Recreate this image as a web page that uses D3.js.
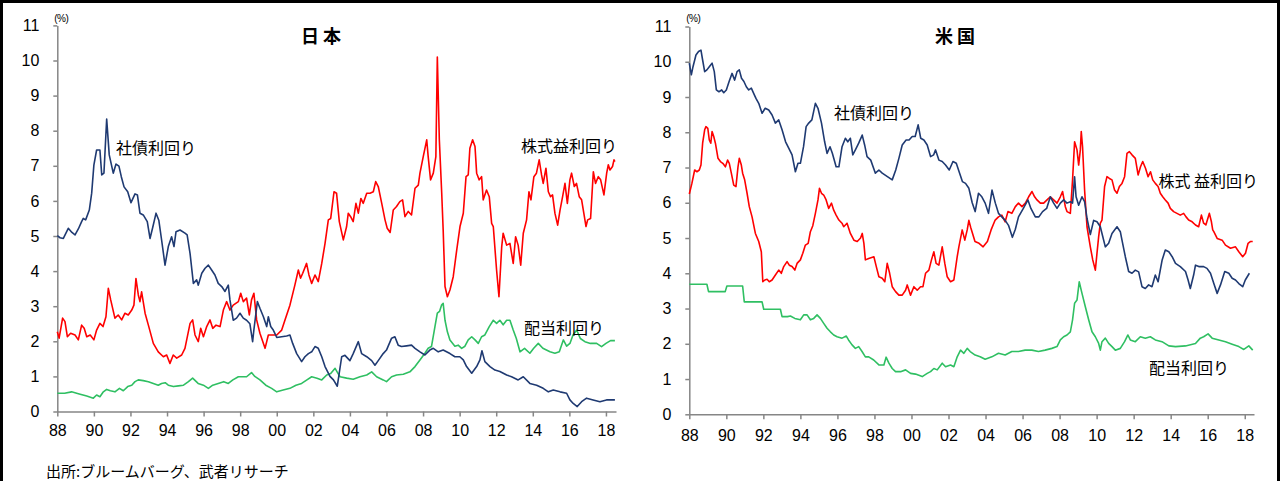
<!DOCTYPE html>
<html lang="ja">
<head>
<meta charset="UTF-8">
<title>日本・米国 利回り比較</title>
<script src="https://d3js.org/d3.v7.min.js"></script>
<style>
  body { margin: 0; background: #fff; }
  svg { display: block; }
  .tick text { font-family: "Liberation Sans", Arial, sans-serif; font-size: 16px; fill: #000; }
  .jp { font-family: "Noto Sans CJK JP", sans-serif; fill: #000; }
</style>
</head>
<body>
<svg id="chart" width="1281" height="481"></svg>
<script>
// x tick years and y tick values
var xTickYears = d3.range(1988, 2019, 2);
var yTickValues = d3.range(0, 12);

// Japan: [year, %]
var jpBond = [[1988.0,5.01],[1988.15,4.95],[1988.33,4.93],[1988.6,5.22],[1988.8,5.1],[1988.97,5.03],[1989.15,5.2],[1989.33,5.41],[1989.42,5.5],[1989.55,5.46],[1989.75,5.74],[1989.88,6.22],[1990.0,7.02],[1990.15,7.45],[1990.33,7.45],[1990.43,6.74],[1990.55,6.79],[1990.7,8.33],[1990.84,7.31],[1991.06,6.79],[1991.21,7.05],[1991.37,6.99],[1991.5,6.69],[1991.65,6.4],[1991.85,6.26],[1992.03,5.95],[1992.25,6.2],[1992.38,6.17],[1992.52,5.65],[1992.7,5.6],[1992.92,5.41],[1993.07,4.93],[1993.22,5.25],[1993.4,5.65],[1993.55,5.45],[1993.7,4.9],[1993.89,4.17],[1994.07,4.7],[1994.25,4.98],[1994.38,4.7],[1994.49,5.12],[1994.71,5.17],[1994.98,5.08],[1995.1,5.03],[1995.26,4.5],[1995.44,3.65],[1995.62,3.75],[1995.71,3.6],[1995.9,3.94],[1996.08,4.08],[1996.26,4.17],[1996.44,4.03],[1996.62,3.89],[1996.8,3.65],[1996.99,3.56],[1997.17,3.42],[1997.35,3.6],[1997.44,3.18],[1997.62,2.6],[1997.8,2.66],[1997.99,2.8],[1998.17,2.66],[1998.35,2.6],[1998.53,2.5],[1998.68,1.99],[1998.75,2.33],[1998.94,3.13],[1999.08,2.94],[1999.27,2.7],[1999.45,2.42],[1999.54,2.7],[1999.67,2.42],[1999.81,2.32],[2000.0,2.11],[2000.27,2.13],[2000.54,2.15],[2000.72,2.18],[2000.87,1.94],[2001.09,1.65],[2001.36,1.42],[2001.54,1.56],[2001.73,1.65],[2001.91,1.7],[2002.09,1.85],[2002.27,1.8],[2002.46,1.56],[2002.64,1.28],[2002.91,1.0],[2003.1,0.9],[2003.31,0.72],[2003.55,1.56],[2003.73,1.6],[2004.0,1.45],[2004.18,1.65],[2004.46,1.99],[2004.64,1.65],[2004.92,1.56],[2005.19,1.45],[2005.37,1.32],[2005.55,1.45],[2005.82,1.65],[2006.0,1.75],[2006.28,2.09],[2006.46,2.13],[2006.64,1.89],[2006.82,1.85],[2007.1,1.87],[2007.37,1.89],[2007.56,1.8],[2007.83,1.7],[2008.1,1.61],[2008.37,1.75],[2008.56,1.8],[2008.83,1.7],[2009.1,1.75],[2009.47,1.65],[2009.74,1.56],[2010.01,1.56],[2010.2,1.47],[2010.38,1.28],[2010.66,1.09],[2010.93,1.28],[2011.11,1.47],[2011.22,1.73],[2011.38,1.42],[2011.66,1.28],[2011.93,1.18],[2012.2,1.14],[2012.57,1.04],[2012.84,0.99],[2013.2,0.9],[2013.48,0.99],[2013.84,0.8],[2014.21,0.75],[2014.57,0.66],[2014.85,0.56],[2015.12,0.61],[2015.49,0.56],[2015.85,0.52],[2016.03,0.33],[2016.21,0.23],[2016.43,0.14],[2016.67,0.28],[2016.94,0.38],[2017.3,0.33],[2017.67,0.28],[2018.03,0.33],[2018.49,0.33]];
var jpEarn = [[1988.0,2.27],[1988.1,2.09],[1988.29,2.66],[1988.42,2.56],[1988.55,2.13],[1988.73,2.23],[1988.97,2.18],[1989.15,2.04],[1989.33,2.46],[1989.47,2.37],[1989.61,2.13],[1989.8,2.18],[1990.0,2.04],[1990.15,2.32],[1990.33,2.51],[1990.5,2.42],[1990.66,2.7],[1990.79,3.51],[1990.92,3.18],[1991.15,2.66],[1991.33,2.75],[1991.52,2.61],[1991.7,2.8],[1991.88,2.75],[1992.07,2.89],[1992.19,3.03],[1992.3,3.79],[1992.43,3.32],[1992.52,3.13],[1992.61,3.41],[1992.8,2.8],[1992.98,2.46],[1993.25,1.94],[1993.52,1.7],[1993.8,1.56],[1993.98,1.61],[1994.16,1.37],[1994.34,1.61],[1994.53,1.52],[1994.8,1.61],[1994.98,1.8],[1995.26,2.51],[1995.4,2.61],[1995.53,2.18],[1995.71,1.99],[1995.84,2.37],[1995.99,2.13],[1996.17,2.42],[1996.35,2.61],[1996.5,2.37],[1996.68,2.46],[1996.9,2.42],[1997.08,2.89],[1997.26,3.13],[1997.44,2.89],[1997.62,3.03],[1997.9,3.13],[1998.03,3.37],[1998.17,3.13],[1998.35,3.23],[1998.5,2.75],[1998.62,3.18],[1998.75,3.37],[1998.9,2.61],[1999.08,2.23],[1999.36,1.8],[1999.54,2.18],[1999.72,2.18],[2000.0,2.18],[2000.27,2.32],[2000.45,2.61],[2000.72,3.03],[2000.99,3.6],[2001.18,4.03],[2001.3,3.8],[2001.42,3.94],[2001.63,4.22],[2001.76,3.89],[2001.91,3.65],[2002.09,3.89],[2002.27,3.7],[2002.46,4.22],[2002.64,4.79],[2002.82,5.46],[2002.95,5.5],[2003.13,6.26],[2003.27,6.22],[2003.42,5.41],[2003.64,4.89],[2003.82,5.27],[2003.91,5.65],[2004.04,5.55],[2004.18,5.41],[2004.33,5.93],[2004.46,5.65],[2004.6,6.07],[2004.73,5.93],[2004.92,6.22],[2005.1,6.22],[2005.28,6.26],[2005.41,6.55],[2005.55,6.41],[2005.74,5.93],[2005.92,5.46],[2006.04,5.22],[2006.2,5.1],[2006.37,5.74],[2006.55,5.84],[2006.73,5.98],[2006.88,6.03],[2007.01,5.55],[2007.19,5.7],[2007.37,5.6],[2007.56,6.36],[2007.74,6.45],[2007.83,6.79],[2008.01,7.26],[2008.2,7.74],[2008.28,7.26],[2008.41,6.6],[2008.56,6.79],[2008.7,7.26],[2008.78,10.1],[2008.89,7.74],[2009.02,6.22],[2009.1,5.17],[2009.2,3.56],[2009.33,3.27],[2009.47,3.46],[2009.65,3.84],[2009.84,4.6],[2010.02,5.27],[2010.2,5.65],[2010.35,6.69],[2010.47,6.74],[2010.56,7.5],[2010.71,7.74],[2010.84,7.55],[2010.93,6.79],[2011.07,6.6],[2011.2,6.69],[2011.29,6.03],[2011.47,6.31],[2011.62,6.12],[2011.75,5.36],[2011.84,5.27],[2012.02,4.03],[2012.15,3.27],[2012.3,4.69],[2012.38,5.08],[2012.57,4.74],[2012.75,4.79],[2012.93,4.22],[2013.06,4.98],[2013.2,4.74],[2013.34,4.17],[2013.48,5.08],[2013.66,5.46],[2013.79,6.26],[2013.9,6.03],[2014.06,6.69],[2014.2,6.79],[2014.35,7.17],[2014.48,6.74],[2014.57,6.5],[2014.72,6.93],[2014.85,6.26],[2014.97,6.12],[2015.08,6.17],[2015.21,5.65],[2015.36,5.31],[2015.49,5.74],[2015.63,6.12],[2015.76,6.5],[2015.89,5.93],[2016.03,6.6],[2016.12,6.79],[2016.27,6.41],[2016.39,6.5],[2016.54,6.12],[2016.67,6.03],[2016.79,5.65],[2016.91,5.27],[2017.0,5.46],[2017.16,5.5],[2017.31,6.83],[2017.43,6.5],[2017.58,6.69],[2017.71,6.6],[2017.89,6.17],[2018.04,6.79],[2018.13,7.03],[2018.22,6.88],[2018.36,6.98],[2018.44,7.17],[2018.49,7.12]];
var jpDiv = [[1988.0,0.52],[1988.4,0.52],[1988.78,0.56],[1989.2,0.5],[1989.61,0.44],[1989.97,0.38],[1990.15,0.47],[1990.33,0.42],[1990.5,0.55],[1990.7,0.63],[1990.9,0.59],[1991.15,0.56],[1991.4,0.66],[1991.61,0.59],[1991.85,0.71],[1992.07,0.75],[1992.25,0.85],[1992.43,0.9],[1992.7,0.88],[1992.98,0.85],[1993.25,0.8],[1993.52,0.75],[1993.7,0.8],[1993.9,0.82],[1994.07,0.75],[1994.35,0.71],[1994.62,0.73],[1994.9,0.75],[1995.17,0.85],[1995.4,0.95],[1995.7,0.8],[1995.99,0.75],[1996.26,0.66],[1996.5,0.75],[1996.8,0.8],[1997.1,0.85],[1997.35,0.8],[1997.6,0.9],[1997.9,0.99],[1998.15,0.99],[1998.35,0.99],[1998.62,1.11],[1998.8,1.0],[1999.08,0.9],[1999.4,0.75],[1999.72,0.66],[2000.0,0.56],[2000.35,0.61],[2000.72,0.66],[2001.05,0.75],[2001.36,0.8],[2001.65,0.9],[2001.91,0.99],[2002.2,0.95],[2002.46,0.9],[2002.73,1.04],[2002.95,1.08],[2003.19,1.23],[2003.3,1.13],[2003.46,0.99],[2003.82,0.95],[2004.18,0.92],[2004.55,0.99],[2004.92,1.04],[2005.19,1.13],[2005.46,0.99],[2005.82,0.9],[2006.0,0.85],[2006.28,0.99],[2006.55,1.04],[2006.92,1.06],[2007.28,1.13],[2007.56,1.28],[2007.83,1.47],[2008.1,1.66],[2008.28,1.8],[2008.46,1.85],[2008.65,2.42],[2008.78,2.8],[2008.9,2.85],[2009.01,3.03],[2009.1,3.08],[2009.2,2.6],[2009.33,2.27],[2009.47,2.04],[2009.74,1.86],[2009.92,1.89],[2010.11,1.8],[2010.29,1.86],[2010.47,2.04],[2010.66,2.13],[2010.84,2.04],[2011.02,1.94],[2011.2,2.13],[2011.38,2.18],[2011.62,2.42],[2011.84,2.6],[2012.02,2.51],[2012.2,2.6],[2012.38,2.47],[2012.57,2.6],[2012.75,2.6],[2012.93,2.32],[2013.1,2.08],[2013.3,1.7],[2013.55,1.8],[2013.84,1.66],[2014.05,1.8],[2014.3,1.94],[2014.55,1.8],[2014.94,1.7],[2015.21,1.66],[2015.45,1.7],[2015.67,2.04],[2015.85,1.86],[2016.03,1.94],[2016.2,2.18],[2016.4,2.32],[2016.6,2.08],[2016.85,1.99],[2017.15,1.94],[2017.49,1.94],[2017.76,1.85],[2018.0,1.94],[2018.25,2.02],[2018.49,2.02]];

// US: [year, %]
var usBond = [[1988.0,9.96],[1988.11,9.63],[1988.2,9.86],[1988.36,10.19],[1988.5,10.29],[1988.63,10.33],[1988.72,10.05],[1988.83,9.72],[1988.95,9.77],[1989.08,9.86],[1989.23,9.96],[1989.35,9.72],[1989.46,9.2],[1989.6,9.15],[1989.75,9.2],[1989.86,9.12],[1990.0,9.2],[1990.15,9.44],[1990.31,9.67],[1990.45,9.48],[1990.58,9.72],[1990.7,9.77],[1990.82,9.53],[1990.95,9.44],[1991.08,9.29],[1991.21,9.2],[1991.35,9.25],[1991.47,9.11],[1991.6,8.96],[1991.75,8.82],[1991.93,8.54],[1992.1,8.68],[1992.29,8.63],[1992.47,8.49],[1992.65,8.26],[1992.83,8.35],[1993.01,8.07],[1993.2,7.73],[1993.37,7.55],[1993.55,7.36],[1993.73,6.88],[1993.87,7.12],[1994.0,7.12],[1994.17,7.59],[1994.31,8.16],[1994.45,8.26],[1994.62,8.35],[1994.81,8.82],[1994.95,8.68],[1995.14,8.26],[1995.31,7.73],[1995.44,7.4],[1995.6,7.59],[1995.73,7.4],[1995.93,7.02],[1996.08,7.02],[1996.25,7.59],[1996.43,7.83],[1996.56,7.73],[1996.7,7.83],[1996.83,7.36],[1996.97,7.5],[1997.15,7.69],[1997.34,7.92],[1997.47,7.64],[1997.6,7.31],[1997.8,7.21],[1998.05,6.84],[1998.24,6.93],[1998.42,6.84],[1998.7,6.74],[1998.96,6.65],[1999.15,6.93],[1999.32,7.26],[1999.5,7.64],[1999.71,7.78],[1999.87,7.78],[2000.04,7.88],[2000.2,7.88],[2000.36,8.21],[2000.5,7.83],[2000.67,7.78],[2000.85,7.64],[2001.03,7.31],[2001.2,7.36],[2001.3,7.5],[2001.48,7.21],[2001.66,7.17],[2001.84,7.07],[2002.04,6.93],[2002.24,7.17],[2002.42,7.12],[2002.6,6.84],[2002.75,6.6],[2002.92,6.55],[2003.1,6.41],[2003.28,6.0],[2003.44,5.75],[2003.62,6.27],[2003.8,6.17],[2003.98,5.99],[2004.16,5.7],[2004.35,6.36],[2004.53,5.99],[2004.7,5.7],[2004.88,5.6],[2005.06,5.5],[2005.24,5.36],[2005.45,5.02],[2005.61,5.25],[2005.78,5.6],[2006.05,5.85],[2006.29,6.08],[2006.45,5.84],[2006.69,5.6],[2006.88,5.6],[2007.08,5.75],[2007.3,5.84],[2007.5,6.17],[2007.68,5.99],[2007.86,5.84],[2008.04,5.99],[2008.22,6.08],[2008.4,5.99],[2008.58,6.03],[2008.7,5.99],[2008.81,6.74],[2008.89,6.17],[2009.03,5.93],[2009.21,6.17],[2009.35,6.03],[2009.48,5.56],[2009.66,5.1],[2009.84,5.5],[2010.02,5.46],[2010.2,5.32],[2010.29,5.13],[2010.47,4.75],[2010.65,4.85],[2010.83,5.13],[2011.1,5.32],[2011.28,5.18],[2011.37,4.94],[2011.55,4.47],[2011.73,4.05],[2011.91,4.0],[2012.09,4.09],[2012.27,4.04],[2012.45,3.62],[2012.63,3.57],[2012.81,3.67],[2012.99,3.62],[2013.17,3.95],[2013.32,3.76],[2013.54,4.38],[2013.71,4.66],[2013.9,4.61],[2014.08,4.47],[2014.26,4.28],[2014.52,4.19],[2014.8,4.05],[2014.94,3.81],[2015.06,3.57],[2015.24,3.95],[2015.34,4.23],[2015.52,4.19],[2015.78,4.19],[2015.96,4.14],[2016.15,4.0],[2016.33,3.71],[2016.51,3.43],[2016.69,3.67],[2016.92,4.05],[2017.14,4.0],[2017.32,3.86],[2017.5,3.81],[2017.68,3.71],[2017.89,3.62],[2018.03,3.81],[2018.25,4.0]];
var usEarn = [[1988.0,6.25],[1988.14,6.55],[1988.29,6.93],[1988.41,6.88],[1988.54,6.93],[1988.63,7.07],[1988.72,7.69],[1988.83,8.07],[1988.9,8.16],[1989.0,8.11],[1989.08,7.78],[1989.16,7.69],[1989.23,8.02],[1989.32,7.88],[1989.41,7.69],[1989.55,7.26],[1989.68,7.17],[1989.81,7.12],[1989.95,7.02],[1990.07,7.21],[1990.16,7.12],[1990.27,6.84],[1990.4,6.5],[1990.52,6.46],[1990.63,7.02],[1990.7,7.26],[1990.81,7.07],[1990.88,6.84],[1990.99,6.65],[1991.12,6.27],[1991.24,5.89],[1991.39,5.6],[1991.53,5.23],[1991.57,5.13],[1991.75,4.9],[1991.89,4.61],[1991.97,3.76],[1992.08,3.81],[1992.2,3.83],[1992.32,3.76],[1992.47,3.81],[1992.65,3.95],[1992.83,4.09],[1992.97,4.0],[1993.1,4.19],[1993.28,4.33],[1993.4,4.23],[1993.55,4.19],[1993.7,4.09],[1993.82,4.28],[1994.0,4.38],[1994.13,4.57],[1994.27,4.8],[1994.42,4.85],[1994.54,5.18],[1994.67,5.35],[1994.81,5.7],[1994.95,6.08],[1995.03,6.41],[1995.14,6.27],[1995.26,6.22],[1995.39,6.08],[1995.53,5.84],[1995.68,5.99],[1995.8,5.79],[1995.93,5.65],[1996.08,5.51],[1996.26,5.41],[1996.34,5.32],[1996.52,5.42],[1996.7,5.13],[1996.89,4.94],[1997.07,4.9],[1997.25,5.0],[1997.34,5.13],[1997.43,4.85],[1997.51,4.38],[1997.69,4.42],[1997.97,4.47],[1998.1,4.19],[1998.24,3.9],[1998.42,3.86],[1998.56,3.76],[1998.69,4.28],[1998.82,4.0],[1998.96,3.62],[1999.14,3.48],[1999.32,3.38],[1999.5,3.38],[1999.68,3.52],[1999.77,3.67],[1999.95,3.38],[2000.13,3.62],[2000.31,3.52],[2000.49,3.62],[2000.62,3.62],[2000.76,4.0],[2000.94,4.09],[2001.08,4.38],[2001.21,4.61],[2001.33,4.28],[2001.48,4.23],[2001.66,4.75],[2001.8,4.28],[2001.93,3.9],[2002.11,3.76],[2002.29,3.81],[2002.47,4.47],[2002.56,4.75],[2002.74,5.23],[2002.88,4.94],[2003.01,5.23],[2003.1,5.5],[2003.2,5.3],[2003.43,4.9],[2003.65,4.85],[2003.87,4.75],[2004.1,4.9],[2004.3,5.23],[2004.52,5.51],[2004.7,5.6],[2004.88,5.65],[2005.06,5.46],[2005.21,5.75],[2005.42,5.7],[2005.61,5.89],[2005.78,5.99],[2005.97,5.89],[2006.15,5.99],[2006.33,6.17],[2006.51,6.32],[2006.65,6.17],[2006.78,6.08],[2006.96,5.99],[2007.14,5.99],[2007.32,6.08],[2007.5,6.17],[2007.68,6.08],[2007.86,5.99],[2008.04,6.17],[2008.16,6.32],[2008.31,5.89],[2008.4,5.75],[2008.58,5.7],[2008.7,6.65],[2008.81,7.73],[2008.94,7.5],[2009.03,7.07],[2009.12,7.5],[2009.17,8.02],[2009.24,7.59],[2009.35,6.36],[2009.48,5.32],[2009.66,4.75],[2009.79,4.38],[2009.93,4.09],[2010.02,4.57],[2010.11,5.04],[2010.2,5.42],[2010.29,5.51],[2010.43,6.46],[2010.56,6.74],[2010.69,6.69],[2010.83,6.65],[2010.97,6.36],[2011.1,6.27],[2011.23,6.46],[2011.37,6.55],[2011.51,6.74],[2011.64,7.4],[2011.77,7.45],[2011.91,7.36],[2012.09,7.26],[2012.24,6.79],[2012.37,7.02],[2012.49,7.17],[2012.64,6.98],[2012.78,6.74],[2012.91,6.88],[2013.03,6.65],[2013.17,6.55],[2013.32,6.46],[2013.44,6.27],[2013.57,6.17],[2013.71,6.08],[2013.86,5.99],[2013.98,5.84],[2014.16,5.75],[2014.34,5.7],[2014.52,5.65],[2014.7,5.7],[2014.83,5.6],[2014.97,5.51],[2015.16,5.46],[2015.34,5.37],[2015.51,5.32],[2015.66,5.65],[2015.78,5.42],[2015.9,5.37],[2016.09,5.7],[2016.2,5.46],[2016.27,5.23],[2016.33,5.18],[2016.51,4.99],[2016.78,4.94],[2016.96,4.8],[2017.23,4.71],[2017.5,4.75],[2017.68,4.61],[2017.89,4.47],[2018.04,4.57],[2018.18,4.85],[2018.3,4.9],[2018.43,4.9]];
var usDiv = [[1988.0,3.69],[1988.95,3.69],[1989.04,3.48],[1989.94,3.48],[1990.03,3.64],[1990.88,3.64],[1990.97,3.19],[1991.93,3.19],[1992.02,2.98],[1992.92,2.98],[1993.01,2.77],[1993.3,2.77],[1993.46,2.79],[1993.7,2.72],[1994.0,2.68],[1994.18,2.82],[1994.36,2.82],[1994.54,2.68],[1994.72,2.72],[1994.9,2.82],[1995.08,2.72],[1995.26,2.58],[1995.44,2.44],[1995.62,2.34],[1995.8,2.25],[1995.98,2.2],[1996.25,2.16],[1996.48,2.22],[1996.6,2.11],[1996.79,1.97],[1996.97,1.87],[1997.15,1.92],[1997.33,1.78],[1997.51,1.63],[1997.69,1.63],[1997.96,1.54],[1998.24,1.4],[1998.51,1.4],[1998.63,1.62],[1998.78,1.45],[1998.96,1.3],[1999.14,1.21],[1999.41,1.21],[1999.68,1.26],[1999.95,1.16],[2000.22,1.14],[2000.58,1.07],[2000.85,1.16],[2001.03,1.21],[2001.21,1.3],[2001.39,1.26],[2001.66,1.45],[2001.84,1.35],[2002.11,1.4],[2002.29,1.35],[2002.47,1.63],[2002.65,1.82],[2002.83,1.73],[2003.01,1.87],[2003.17,1.78],[2003.44,1.68],[2003.71,1.63],[2003.98,1.56],[2004.34,1.63],[2004.7,1.73],[2005.06,1.68],[2005.42,1.78],[2005.78,1.78],[2006.14,1.82],[2006.5,1.82],[2006.86,1.78],[2007.22,1.82],[2007.58,1.87],[2007.86,1.92],[2008.04,2.11],[2008.22,2.2],[2008.4,2.25],[2008.58,2.34],[2008.7,2.68],[2008.81,3.15],[2008.94,3.24],[2009.06,3.76],[2009.21,3.43],[2009.39,3.05],[2009.57,2.68],[2009.75,2.34],[2009.93,2.2],[2010.11,2.01],[2010.2,1.82],[2010.29,2.06],[2010.47,2.16],[2010.65,2.01],[2010.83,1.92],[2011.01,1.82],[2011.28,1.87],[2011.51,2.06],[2011.69,2.25],[2011.82,2.11],[2012.09,2.06],[2012.36,2.2],[2012.63,2.16],[2012.9,2.2],[2013.17,2.11],[2013.53,2.06],[2013.9,1.94],[2014.26,1.92],[2014.8,1.94],[2015.34,2.01],[2015.6,2.16],[2015.78,2.2],[2016.02,2.28],[2016.24,2.16],[2016.6,2.11],[2016.96,2.06],[2017.32,1.99],[2017.68,1.92],[2017.95,1.84],[2018.22,1.94],[2018.43,1.82]];

var navy = '#1f3a72', red = '#ff0000', green = '#2fbf62', axisGray = '#868686';

var svg = d3.select('#chart');

// outer frame (left, top, right)
svg.append('path')
    .attr('d', 'M1.5,481 V1.5 H1278.5 V481')
    .attr('fill', 'none')
    .attr('stroke', '#000')
    .attr('stroke-width', 3);

var panels = [
    {
        title: '日 本', titleX: 321, left: 57.3, right: 616, xMax: 2018.55, bottom: 411.5, top: 25.4, xPad: 8,
        series: [[jpDiv, green], [jpEarn, red], [jpBond, navy]],
        labels: [['社債利回り', 116, 146.5], ['株式益利回り', 521, 145], ['配当利回り', 524, 326.5]]
    },
    {
        title: '米 国', titleX: 955, left: 689.3, right: 1254, xMax: 2018.5, bottom: 414.3, top: 26.5, xPad: 10.5,
        series: [[usDiv, green], [usEarn, red], [usBond, navy]],
        labels: [['社債利回り', 834, 111.7], ['株式 益利回り', 1158.5, 180], ['配当利回り', 1149, 366.7]]
    }
];

panels.forEach(function (p) {
    var x = d3.scaleLinear().domain([1988, p.xMax]).range([p.left, p.right]);
    var y = d3.scaleLinear().domain([0, 11]).range([p.bottom, p.top]);

    // Left axis
    var yAxis = svg.append('g')
        .attr('transform', 'translate(' + p.left + ',0)')
        .call(d3.axisLeft(y).tickValues(yTickValues).tickSize(4).tickSizeOuter(0).tickPadding(14));
    // Bottom axis
    var xAxis = svg.append('g')
        .attr('transform', 'translate(0,' + p.bottom + ')')
        .call(d3.axisBottom(x).tickValues(xTickYears)
            .tickFormat(function (d) { return d3.format('02d')(d % 100); })
            .tickSize(5).tickSizeOuter(0).tickPadding(p.xPad));
    [yAxis, xAxis].forEach(function (a) {
        a.select('.domain').attr('stroke', axisGray).attr('stroke-width', 1.5);
        a.selectAll('.tick line').attr('stroke', axisGray).attr('stroke-width', 1.5);
    });

    // lines
    var line = d3.line()
        .x(function (d) { return x(d[0]); })
        .y(function (d) { return y(d[1]); });
    p.series.forEach(function (s) {
        svg.append('path')
            .datum(s[0])
            .attr('d', line)
            .attr('fill', 'none')
            .attr('stroke', s[1])
            .attr('stroke-width', 1.6)
            .attr('stroke-linejoin', 'round');
    });

    // title and unit
    svg.append('text')
        .attr('class', 'jp')
        .attr('x', p.titleX)
        .attr('y', 34.5)
        .attr('text-anchor', 'middle')
        .attr('dominant-baseline', 'central')
        .style('font-size', '18px')
        .style('font-weight', 'bold')
        .text(p.title);
    svg.append('text')
        .attr('x', p.left + 4)
        .attr('y', 18)
        .attr('text-anchor', 'middle')
        .attr('dominant-baseline', 'central')
        .style('font-family', '"Liberation Sans", Arial, sans-serif')
        .style('font-size', '10px')
        .style('letter-spacing', '-0.5px')
        .text('(%)');

    // series labels
    p.labels.forEach(function (l) {
        svg.append('text')
            .attr('class', 'jp')
            .attr('x', l[1])
            .attr('y', l[2])
            .attr('dominant-baseline', 'central')
            .style('font-size', '16px')
            .text(l[0]);
    });
});

// source note
svg.append('text')
    .attr('class', 'jp')
    .attr('x', 46)
    .attr('y', 470.5)
    .attr('dominant-baseline', 'central')
    .style('font-size', '15px')
    .text('出所:ブルームバーグ、武者リサーチ');
</script>
</body>
</html>
